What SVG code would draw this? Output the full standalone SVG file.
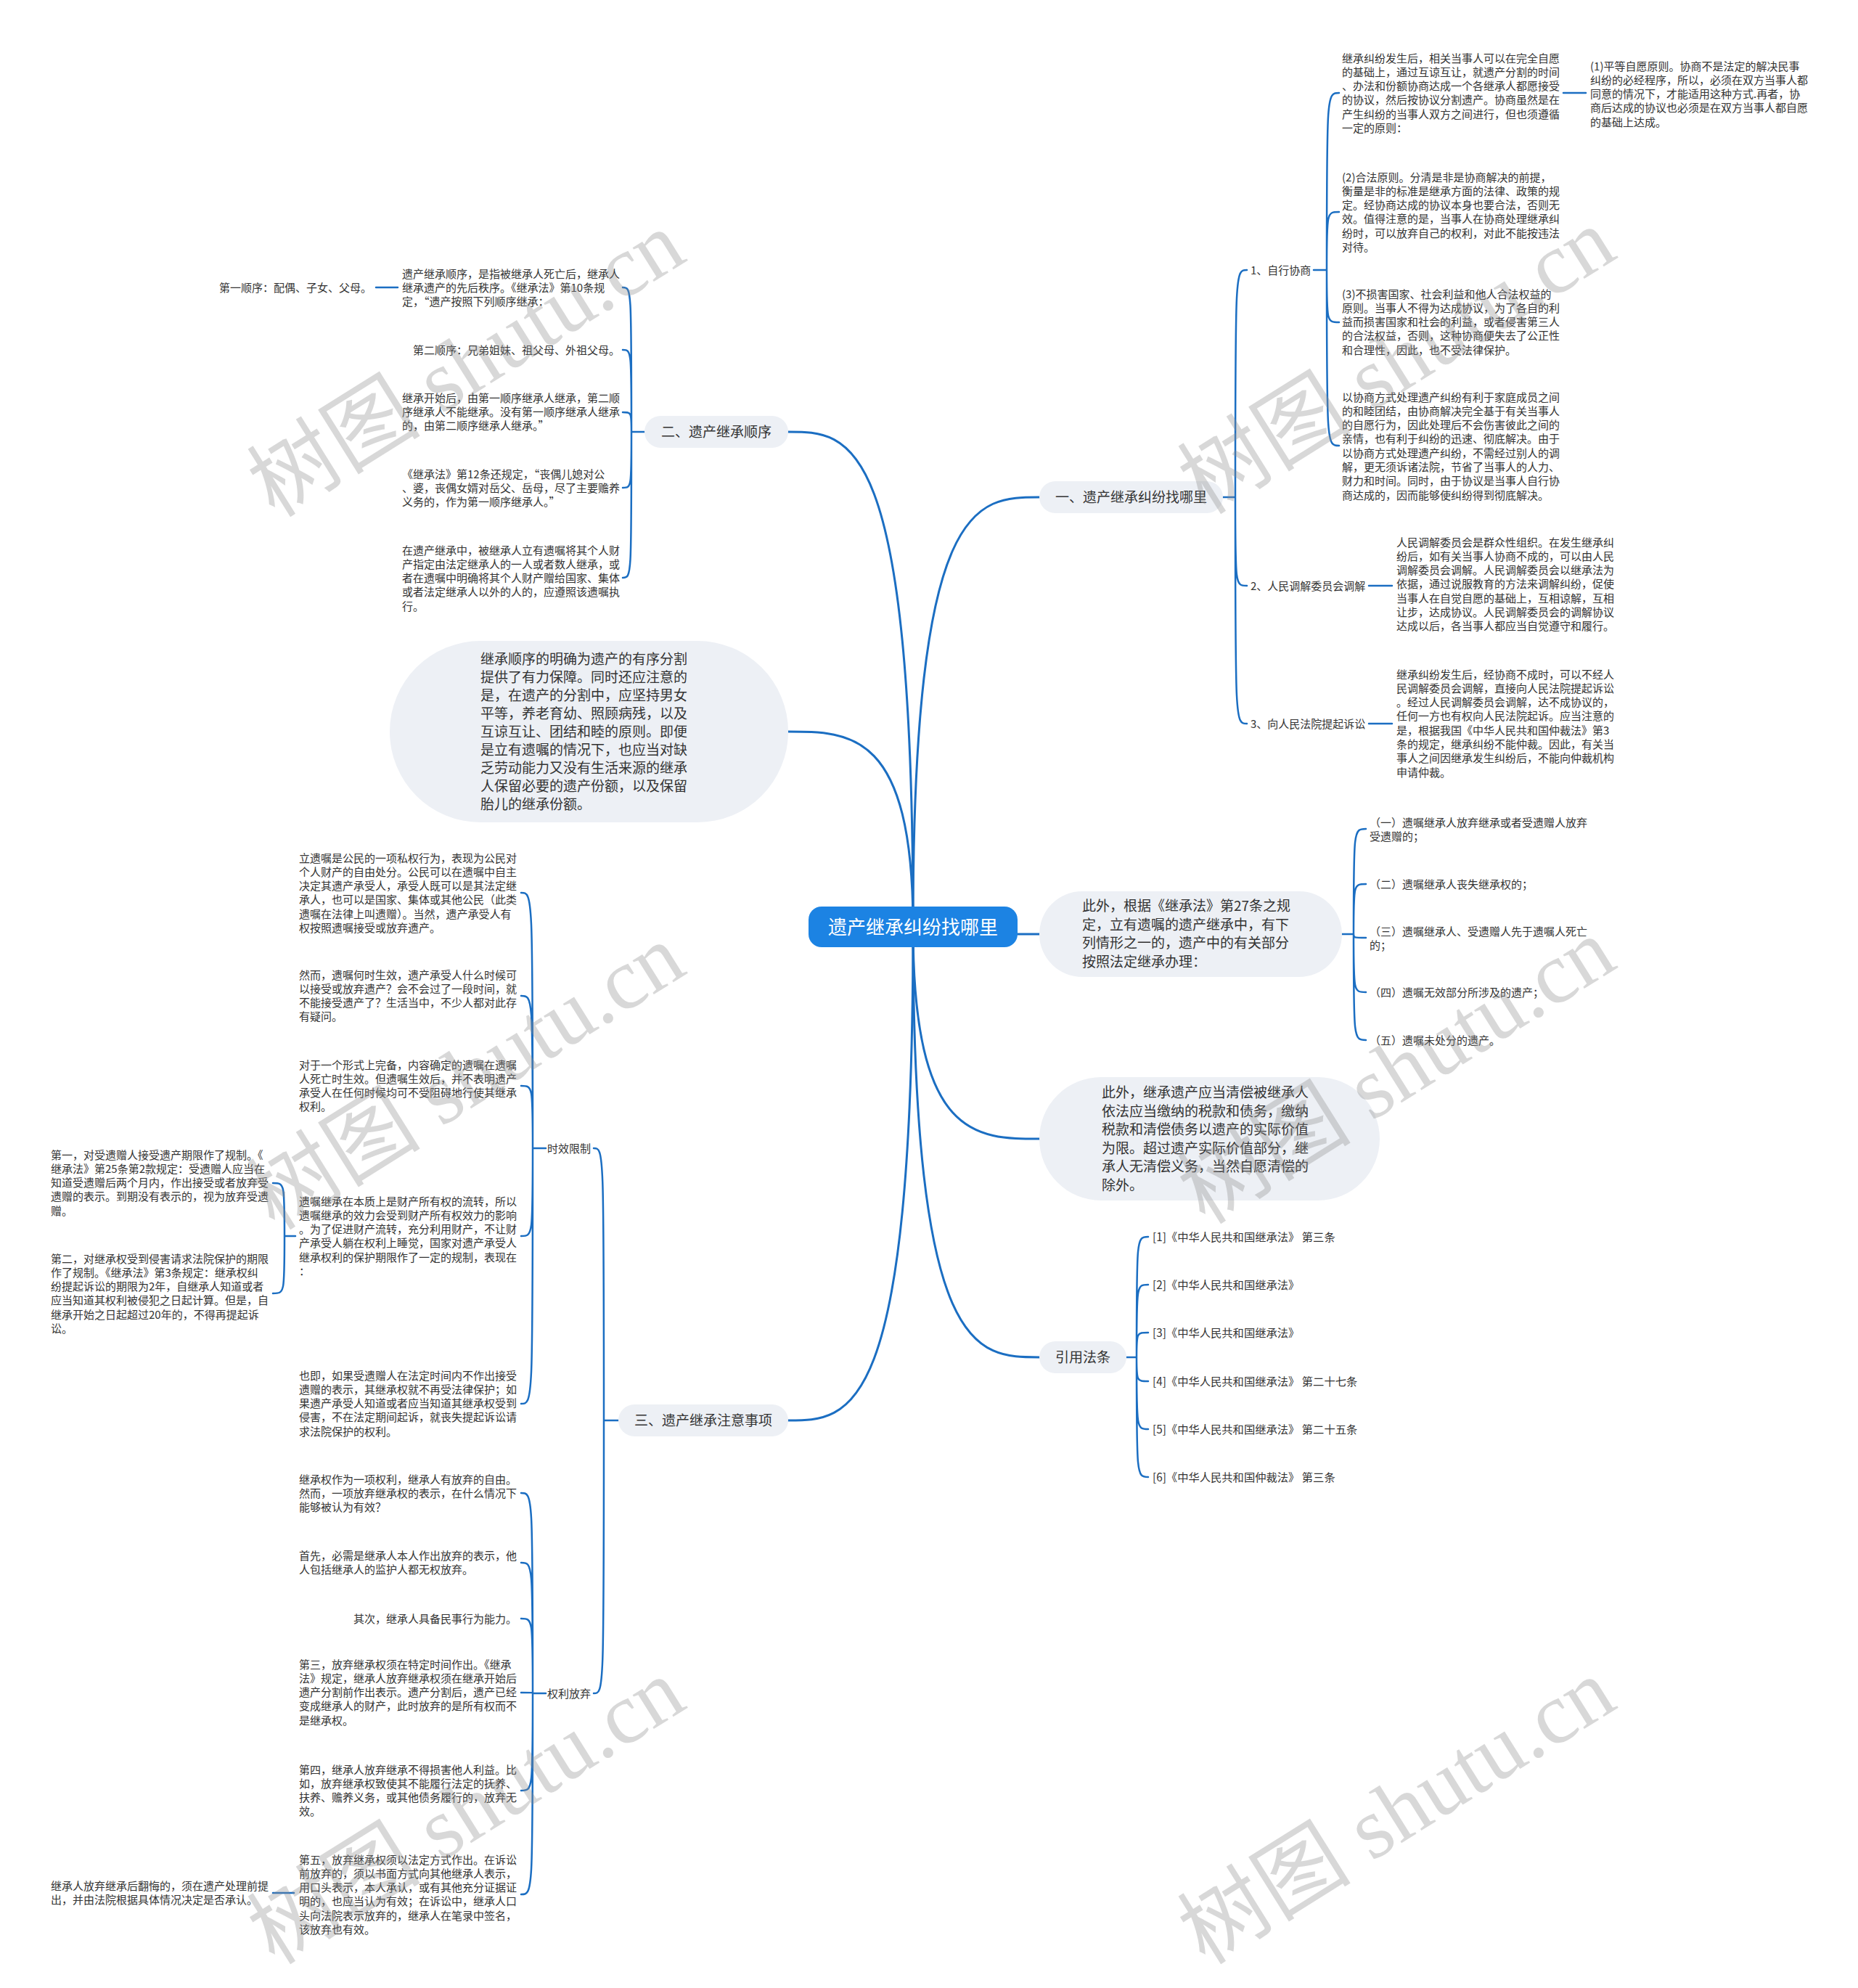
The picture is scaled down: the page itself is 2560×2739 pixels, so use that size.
<svg xmlns="http://www.w3.org/2000/svg" width="2560" height="2739" viewBox="0 0 2560 2739">
<style>
text{font-family:"Noto Sans CJK SC","Noto Sans",sans-serif;fill:#333;}
.p{font-size:15px;}
.big{font-size:19px;}
.ref{font-size:15.3px;}
.center{font-size:26px;fill:#fff;}
.lk{fill:none;stroke:#1b6ec2;stroke-width:2.5;stroke-linecap:round;}
.main{stroke-width:3;}
.pill{fill:#edf0f5;}
.wm{font-family:"Liberation Serif","Noto Sans CJK SC",serif;font-size:120px;fill:#8c8c8c;fill-opacity:0.34;}
</style>
<rect width="2560" height="2739" fill="#fff"/>
<g id="connectors">
<path class="lk main" d="M1258 1277 C1258 685 1345 685 1432 685"/>
<path class="lk main" d="M1258 1277 C1258 1287 1345 1287 1432 1287"/>
<path class="lk main" d="M1258 1277 C1258 1569 1345 1569 1432 1569"/>
<path class="lk main" d="M1258 1277 C1258 1870 1345 1870 1432 1870"/>
<path class="lk main" d="M1258 1277 C1258 595 1172 595 1086 595"/>
<path class="lk main" d="M1258 1277 C1258 1008 1172 1008 1086 1008"/>
<path class="lk main" d="M1258 1277 C1258 1957 1172 1957 1086 1957"/>
<path class="lk" d="M1685 685 H1702 M1702 685 C1702 372 1702 372 1718 372 M1702 685 C1702 807 1702 807 1718 807 M1702 685 C1702 997 1702 997 1718 997"/>
<path class="lk" d="M1810 372 H1828 M1828 372 C1828 128 1828 128 1845 128 M1828 372 C1828 292 1828 292 1845 292 M1828 372 C1828 444 1828 444 1845 444 M1828 372 C1828 614 1828 614 1845 614"/>
<path class="lk" d="M2154 128 H2185"/>
<path class="lk" d="M1886 807 H1918 M1886 997 H1918"/>
<path class="lk" d="M1849 1287 H1865 M1865 1287 C1865 1142 1865 1142 1882 1142 M1865 1287 C1865 1218 1865 1218 1882 1218 M1865 1287 C1865 1292 1865 1292 1882 1292 M1865 1287 C1865 1367 1865 1367 1882 1367 M1865 1287 C1865 1433 1865 1433 1882 1433"/>
<path class="lk" d="M1552 1870 H1566 M1566 1870 C1566 1704 1566 1704 1582 1704 M1566 1870 C1566 1770 1566 1770 1582 1770 M1566 1870 C1566 1836 1566 1836 1582 1836 M1566 1870 C1566 1903 1566 1903 1582 1903 M1566 1870 C1566 1969 1566 1969 1582 1969 M1566 1870 C1566 2035 1566 2035 1582 2035"/>
<path class="lk" d="M888 595 H870 M870 595 C870 396 870 396 858 396 M870 595 C870 482 870 482 858 482 M870 595 C870 568 870 568 858 568 M870 595 C870 672 870 672 858 672 M870 595 C870 796 870 796 858 796"/>
<path class="lk" d="M518 396 H548"/>
<path class="lk" d="M852 1957 H832 M832 1957 C832 1582 832 1582 818 1582 M832 1957 C832 2333 832 2333 818 2333"/>
<path class="lk" d="M752 1582 H734 M734 1582 C734 1230 734 1230 718 1230 M734 1582 C734 1372 734 1372 718 1372 M734 1582 C734 1496 734 1496 718 1496 M734 1582 C734 1703 734 1703 718 1703 M734 1582 C734 1934 734 1934 718 1934"/>
<path class="lk" d="M407 1703 H392 M392 1703 C392 1630 392 1630 376 1630 M392 1703 C392 1782 392 1782 376 1782"/>
<path class="lk" d="M752 2333 H734 M734 2333 C734 2057 734 2057 718 2057 M734 2333 C734 2153 734 2153 718 2153 M734 2333 C734 2230 734 2230 718 2230 M734 2333 C734 2332 734 2332 718 2332 M734 2333 C734 2467 734 2467 718 2467 M734 2333 C734 2610 734 2610 718 2610"/>
<path class="lk" d="M376 2608 H405"/>
</g>
<g id="center">
<rect x="1114" y="1249" width="288" height="56" rx="18" fill="#1c83e3"/>
<text class="center" x="1258" y="1287" text-anchor="middle">遗产继承纠纷找哪里</text>
</g>
<g id="b1">
<rect class="pill" x="1432" y="663" width="253" height="44" rx="22"/>
<text class="big" x="1558.5" y="692" text-anchor="middle">一、遗产继承纠纷找哪里</text>
</g>
<g id="b1-1"><text class="p" x="1723" y="377.5">1、自行协商</text></g>
<g id="b1-1a"><text class="p"><tspan x="1849" y="85.5">继承纠纷发生后，相关当事人可以在完全自愿</tspan><tspan x="1849" dy="19.3">的基础上，通过互谅互让，就遗产分割的时间</tspan><tspan x="1849" dy="19.3">、办法和份额协商达成一个各继承人都愿接受</tspan><tspan x="1849" dy="19.3">的协议，然后按协议分割遗产。协商虽然是在</tspan><tspan x="1849" dy="19.3">产生纠纷的当事人双方之间进行，但也须遵循</tspan><tspan x="1849" dy="19.3">一定的原则：</tspan></text></g>
<g id="b1-1a1"><text class="p"><tspan x="2191" y="96.5">(1)平等自愿原则。协商不是法定的解决民事</tspan><tspan x="2191" dy="19.3">纠纷的必经程序，所以，必须在双方当事人都</tspan><tspan x="2191" dy="19.3">同意的情况下，才能适用这种方式.再者，协</tspan><tspan x="2191" dy="19.3">商后达成的协议也必须是在双方当事人都自愿</tspan><tspan x="2191" dy="19.3">的基础上达成。</tspan></text></g>
<g id="b1-1b"><text class="p"><tspan x="1849" y="249.5">(2)合法原则。分清是非是协商解决的前提，</tspan><tspan x="1849" dy="19.3">衡量是非的标准是继承方面的法律、政策的规</tspan><tspan x="1849" dy="19.3">定。经协商达成的协议本身也要合法，否则无</tspan><tspan x="1849" dy="19.3">效。值得注意的是，当事人在协商处理继承纠</tspan><tspan x="1849" dy="19.3">纷时，可以放弃自己的权利，对此不能按违法</tspan><tspan x="1849" dy="19.3">对待。</tspan></text></g>
<g id="b1-1c"><text class="p"><tspan x="1849" y="410.5">(3)不损害国家、社会利益和他人合法权益的</tspan><tspan x="1849" dy="19.3">原则。当事人不得为达成协议，为了各自的利</tspan><tspan x="1849" dy="19.3">益而损害国家和社会的利益，或者侵害第三人</tspan><tspan x="1849" dy="19.3">的合法权益，否则，这种协商便失去了公正性</tspan><tspan x="1849" dy="19.3">和合理性，因此，也不受法律保护。</tspan></text></g>
<g id="b1-1d"><text class="p"><tspan x="1849" y="552.5">以协商方式处理遗产纠纷有利于家庭成员之间</tspan><tspan x="1849" dy="19.3">的和睦团结，由协商解决完全基于有关当事人</tspan><tspan x="1849" dy="19.3">的自愿行为，因此处理后不会伤害彼此之间的</tspan><tspan x="1849" dy="19.3">亲情，也有利于纠纷的迅速、彻底解决。由于</tspan><tspan x="1849" dy="19.3">以协商方式处理遗产纠纷，不需经过别人的调</tspan><tspan x="1849" dy="19.3">解，更无须诉诸法院，节省了当事人的人力、</tspan><tspan x="1849" dy="19.3">财力和时间。同时，由于协议是当事人自行协</tspan><tspan x="1849" dy="19.3">商达成的，因而能够使纠纷得到彻底解决。</tspan></text></g>
<g id="b1-2"><text class="p" x="1723" y="812.5">2、人民调解委员会调解</text></g>
<g id="b1-2a"><text class="p"><tspan x="1924" y="752.5">人民调解委员会是群众性组织。在发生继承纠</tspan><tspan x="1924" dy="19.3">纷后，如有关当事人协商不成的，可以由人民</tspan><tspan x="1924" dy="19.3">调解委员会调解。人民调解委员会以继承法为</tspan><tspan x="1924" dy="19.3">依据，通过说服教育的方法来调解纠纷，促使</tspan><tspan x="1924" dy="19.3">当事人在自觉自愿的基础上，互相谅解，互相</tspan><tspan x="1924" dy="19.3">让步，达成协议。人民调解委员会的调解协议</tspan><tspan x="1924" dy="19.3">达成以后，各当事人都应当自觉遵守和履行。</tspan></text></g>
<g id="b1-3"><text class="p" x="1723" y="1002.5">3、向人民法院提起诉讼</text></g>
<g id="b1-3a"><text class="p"><tspan x="1924" y="934.5">继承纠纷发生后，经协商不成时，可以不经人</tspan><tspan x="1924" dy="19.3">民调解委员会调解，直接向人民法院提起诉讼</tspan><tspan x="1924" dy="19.3">。经过人民调解委员会调解，达不成协议的，</tspan><tspan x="1924" dy="19.3">任何一方也有权向人民法院起诉。应当注意的</tspan><tspan x="1924" dy="19.3">是，根据我国《中华人民共和国仲裁法》第3</tspan><tspan x="1924" dy="19.3">条的规定，继承纠纷不能仲裁。因此，有关当</tspan><tspan x="1924" dy="19.3">事人之间因继承发生纠纷后，不能向仲裁机构</tspan><tspan x="1924" dy="19.3">申请仲裁。</tspan></text></g>
<g id="b4">
<rect class="pill" x="1432" y="1228" width="417" height="118" rx="59"/>
<text class="big"><tspan x="1491" y="1255">此外，根据《继承法》第27条之规</tspan><tspan x="1491" dy="25.7">定，立有遗嘱的遗产继承中，有下</tspan><tspan x="1491" dy="25.7">列情形之一的，遗产中的有关部分</tspan><tspan x="1491" dy="25.7">按照法定继承办理：</tspan></text>
</g>
<g id="b4-1"><text class="p"><tspan x="1887" y="1138.5">（一）遗嘱继承人放弃继承或者受遗赠人放弃</tspan><tspan x="1887" dy="19.3">受遗赠的；</tspan></text></g>
<g id="b4-2"><text class="p" x="1887" y="1223.5">（二）遗嘱继承人丧失继承权的；</text></g>
<g id="b4-3"><text class="p"><tspan x="1887" y="1288.5">（三）遗嘱继承人、受遗赠人先于遗嘱人死亡</tspan><tspan x="1887" dy="19.3">的；</tspan></text></g>
<g id="b4-4"><text class="p" x="1887" y="1372.5">（四）遗嘱无效部分所涉及的遗产；</text></g>
<g id="b4-5"><text class="p" x="1887" y="1438.5">（五）遗嘱未处分的遗产。</text></g>
<g id="b5">
<rect class="pill" x="1432" y="1484" width="469" height="170" rx="85"/>
<text class="big"><tspan x="1518" y="1512">此外，继承遗产应当清偿被继承人</tspan><tspan x="1518" dy="25.6">依法应当缴纳的税款和债务，缴纳</tspan><tspan x="1518" dy="25.6">税款和清偿债务以遗产的实际价值</tspan><tspan x="1518" dy="25.6">为限。超过遗产实际价值部分，继</tspan><tspan x="1518" dy="25.6">承人无清偿义务，当然自愿清偿的</tspan><tspan x="1518" dy="25.6">除外。</tspan></text>
</g>
<g id="b6">
<rect class="pill" x="1432" y="1848" width="120" height="44" rx="22"/>
<text class="big" x="1492" y="1877" text-anchor="middle">引用法条</text>
</g>
<g id="b6-1"><text class="ref" x="1588" y="1710">[1]《中华人民共和国继承法》 第三条</text></g>
<g id="b6-2"><text class="ref" x="1588" y="1776">[2]《中华人民共和国继承法》</text></g>
<g id="b6-3"><text class="ref" x="1588" y="1842">[3]《中华人民共和国继承法》</text></g>
<g id="b6-4"><text class="ref" x="1588" y="1909">[4]《中华人民共和国继承法》 第二十七条</text></g>
<g id="b6-5"><text class="ref" x="1588" y="1975">[5]《中华人民共和国继承法》 第二十五条</text></g>
<g id="b6-6"><text class="ref" x="1588" y="2041">[6]《中华人民共和国仲裁法》 第三条</text></g>
<g id="b2">
<rect class="pill" x="888" y="573" width="198" height="44" rx="22"/>
<text class="big" x="987" y="602" text-anchor="middle">二、遗产继承顺序</text>
</g>
<g id="b2-1"><text class="p"><tspan x="554" y="382.5">遗产继承顺序，是指被继承人死亡后，继承人</tspan><tspan x="554" dy="19.3">继承遗产的先后秩序。《继承法》第10条规</tspan><tspan x="554" dy="19.3">定，“遗产按照下列顺序继承：</tspan></text></g>
<g id="b2-1a"><text class="p" x="302" y="401.5">第一顺序：配偶、子女、父母。</text></g>
<g id="b2-2"><text class="p" x="854" y="487.5" text-anchor="end">第二顺序：兄弟姐妹、祖父母、外祖父母。</text></g>
<g id="b2-3"><text class="p"><tspan x="554" y="553.5">继承开始后，由第一顺序继承人继承，第二顺</tspan><tspan x="554" dy="19.3">序继承人不能继承。没有第一顺序继承人继承</tspan><tspan x="554" dy="19.3">的，由第二顺序继承人继承。”</tspan></text></g>
<g id="b2-4"><text class="p"><tspan x="554" y="658.5">《继承法》第12条还规定，“丧偶儿媳对公</tspan><tspan x="554" dy="19.3">、婆，丧偶女婿对岳父、岳母，尽了主要赡养</tspan><tspan x="554" dy="19.3">义务的，作为第一顺序继承人。”</tspan></text></g>
<g id="b2-5"><text class="p"><tspan x="554" y="763.5">在遗产继承中，被继承人立有遗嘱将其个人财</tspan><tspan x="554" dy="19.3">产指定由法定继承人的一人或者数人继承，或</tspan><tspan x="554" dy="19.3">者在遗嘱中明确将其个人财产赠给国家、集体</tspan><tspan x="554" dy="19.3">或者法定继承人以外的人的，应遵照该遗嘱执</tspan><tspan x="554" dy="19.3">行。</tspan></text></g>
<g id="b7">
<rect class="pill" x="537" y="883" width="549" height="250" rx="125"/>
<text class="big"><tspan x="662" y="915">继承顺序的明确为遗产的有序分割</tspan><tspan x="662" dy="25">提供了有力保障。同时还应注意的</tspan><tspan x="662" dy="25">是，在遗产的分割中，应坚持男女</tspan><tspan x="662" dy="25">平等，养老育幼、照顾病残，以及</tspan><tspan x="662" dy="25">互谅互让、团结和睦的原则。即便</tspan><tspan x="662" dy="25">是立有遗嘱的情况下，也应当对缺</tspan><tspan x="662" dy="25">乏劳动能力又没有生活来源的继承</tspan><tspan x="662" dy="25">人保留必要的遗产份额，以及保留</tspan><tspan x="662" dy="25">胎儿的继承份额。</tspan></text>
</g>
<g id="b3">
<rect class="pill" x="852" y="1935" width="234" height="44" rx="22"/>
<text class="big" x="969" y="1964" text-anchor="middle">三、遗产继承注意事项</text>
</g>
<g id="b3-1"><text class="p" x="814" y="1587.5" text-anchor="end">时效限制</text></g>
<g id="b3-1a"><text class="p"><tspan x="412" y="1187.5">立遗嘱是公民的一项私权行为，表现为公民对</tspan><tspan x="412" dy="19.3">个人财产的自由处分。公民可以在遗嘱中自主</tspan><tspan x="412" dy="19.3">决定其遗产承受人，承受人既可以是其法定继</tspan><tspan x="412" dy="19.3">承人，也可以是国家、集体或其他公民（此类</tspan><tspan x="412" dy="19.3">遗嘱在法律上叫遗赠）。当然，遗产承受人有</tspan><tspan x="412" dy="19.3">权按照遗嘱接受或放弃遗产。</tspan></text></g>
<g id="b3-1b"><text class="p"><tspan x="412" y="1348.5">然而，遗嘱何时生效，遗产承受人什么时候可</tspan><tspan x="412" dy="19.3">以接受或放弃遗产？会不会过了一段时间，就</tspan><tspan x="412" dy="19.3">不能接受遗产了？生活当中，不少人都对此存</tspan><tspan x="412" dy="19.3">有疑问。</tspan></text></g>
<g id="b3-1c"><text class="p"><tspan x="412" y="1472.5">对于一个形式上完备，内容确定的遗嘱在遗嘱</tspan><tspan x="412" dy="19.3">人死亡时生效。但遗嘱生效后，并不表明遗产</tspan><tspan x="412" dy="19.3">承受人在任何时候均可不受阻碍地行使其继承</tspan><tspan x="412" dy="19.3">权利。</tspan></text></g>
<g id="b3-1d"><text class="p"><tspan x="412" y="1660.5">遗嘱继承在本质上是财产所有权的流转，所以</tspan><tspan x="412" dy="19.3">遗嘱继承的效力会受到财产所有权效力的影响</tspan><tspan x="412" dy="19.3">。为了促进财产流转，充分利用财产，不让财</tspan><tspan x="412" dy="19.3">产承受人躺在权利上睡觉，国家对遗产承受人</tspan><tspan x="412" dy="19.3">继承权利的保护期限作了一定的规制，表现在</tspan><tspan x="412" dy="19.3">：</tspan></text></g>
<g id="b3-1d1"><text class="p"><tspan x="70" y="1596.5">第一，对受遗赠人接受遗产期限作了规制。《</tspan><tspan x="70" dy="19.3">继承法》第25条第2款规定：受遗赠人应当在</tspan><tspan x="70" dy="19.3">知道受遗赠后两个月内，作出接受或者放弃受</tspan><tspan x="70" dy="19.3">遗赠的表示。到期没有表示的，视为放弃受遗</tspan><tspan x="70" dy="19.3">赠。</tspan></text></g>
<g id="b3-1d2"><text class="p"><tspan x="70" y="1739.5">第二，对继承权受到侵害请求法院保护的期限</tspan><tspan x="70" dy="19.3">作了规制。《继承法》第3条规定：继承权纠</tspan><tspan x="70" dy="19.3">纷提起诉讼的期限为2年，自继承人知道或者</tspan><tspan x="70" dy="19.3">应当知道其权利被侵犯之日起计算。但是，自</tspan><tspan x="70" dy="19.3">继承开始之日起超过20年的，不得再提起诉</tspan><tspan x="70" dy="19.3">讼。</tspan></text></g>
<g id="b3-1e"><text class="p"><tspan x="412" y="1900.5">也即，如果受遗赠人在法定时间内不作出接受</tspan><tspan x="412" dy="19.3">遗赠的表示，其继承权就不再受法律保护；如</tspan><tspan x="412" dy="19.3">果遗产承受人知道或者应当知道其继承权受到</tspan><tspan x="412" dy="19.3">侵害，不在法定期间起诉，就丧失提起诉讼请</tspan><tspan x="412" dy="19.3">求法院保护的权利。</tspan></text></g>
<g id="b3-2"><text class="p" x="814" y="2338.5" text-anchor="end">权利放弃</text></g>
<g id="b3-2a"><text class="p"><tspan x="412" y="2043.5">继承权作为一项权利，继承人有放弃的自由。</tspan><tspan x="412" dy="19.3">然而，一项放弃继承权的表示，在什么情况下</tspan><tspan x="412" dy="19.3">能够被认为有效？</tspan></text></g>
<g id="b3-2b"><text class="p"><tspan x="412" y="2148.5">首先，必需是继承人本人作出放弃的表示，他</tspan><tspan x="412" dy="19.3">人包括继承人的监护人都无权放弃。</tspan></text></g>
<g id="b3-2c"><text class="p" x="712" y="2235.5" text-anchor="end">其次，继承人具备民事行为能力。</text></g>
<g id="b3-2d"><text class="p"><tspan x="412" y="2298.5">第三，放弃继承权须在特定时间作出。《继承</tspan><tspan x="412" dy="19.3">法》规定，继承人放弃继承权须在继承开始后</tspan><tspan x="412" dy="19.3">遗产分割前作出表示。遗产分割后，遗产已经</tspan><tspan x="412" dy="19.3">变成继承人的财产，此时放弃的是所有权而不</tspan><tspan x="412" dy="19.3">是继承权。</tspan></text></g>
<g id="b3-2e"><text class="p"><tspan x="412" y="2443.5">第四，继承人放弃继承不得损害他人利益。比</tspan><tspan x="412" dy="19.3">如，放弃继承权致使其不能履行法定的抚养、</tspan><tspan x="412" dy="19.3">扶养、赡养义务，或其他债务履行的，放弃无</tspan><tspan x="412" dy="19.3">效。</tspan></text></g>
<g id="b3-2f"><text class="p"><tspan x="412" y="2567.5">第五，放弃继承权须以法定方式作出。在诉讼</tspan><tspan x="412" dy="19.3">前放弃的，须以书面方式向其他继承人表示，</tspan><tspan x="412" dy="19.3">用口头表示，本人承认，或有其他充分证据证</tspan><tspan x="412" dy="19.3">明的，也应当认为有效；在诉讼中，继承人口</tspan><tspan x="412" dy="19.3">头向法院表示放弃的，继承人在笔录中签名，</tspan><tspan x="412" dy="19.3">该放弃也有效。</tspan></text></g>
<g id="b3-2f1"><text class="p"><tspan x="70" y="2603.5">继承人放弃继承后翻悔的，须在遗产处理前提</tspan><tspan x="70" dy="19.3">出，并由法院根据具体情况决定是否承认。</tspan></text></g>
<g id="watermarks">
<text class="wm" text-anchor="middle" transform="translate(664 536) rotate(-32)">树图 shutu.cn</text>
<text class="wm" text-anchor="middle" transform="translate(1946 532) rotate(-32)">树图 shutu.cn</text>
<text class="wm" text-anchor="middle" transform="translate(664 1518) rotate(-32)">树图 shutu.cn</text>
<text class="wm" text-anchor="middle" transform="translate(1946 1510) rotate(-32)">树图 shutu.cn</text>
<text class="wm" text-anchor="middle" transform="translate(664 2530) rotate(-32)">树图 shutu.cn</text>
<text class="wm" text-anchor="middle" transform="translate(1946 2530) rotate(-32)">树图 shutu.cn</text>
</g>
</svg>
